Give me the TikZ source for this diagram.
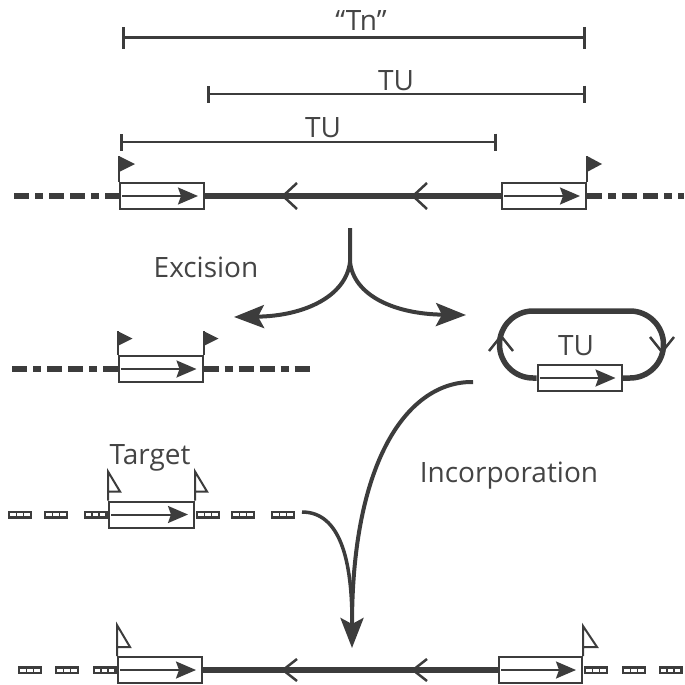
\documentclass[tikz,border=0pt]{standalone}
\usepackage{fontspec}
\setmainfont{Open Sans}
\usetikzlibrary{arrows.meta}
\definecolor{dk}{HTML}{3C3C3C}
\definecolor{tx}{HTML}{444444}
\tikzset{
  bead/.pic={
    \fill[dk] (-12,-4) rectangle (12,4);
    \foreach \dx in {-7,0,7} \fill[white] (\dx-2.6,-1.5) rectangle (\dx+2.6,1.5);
  }
}
\begin{document}
\begin{tikzpicture}[x=1pt,y=-1pt,
  gene/.style={draw=dk,line width=2pt,fill=white,rectangle,minimum width=84pt,minimum height=26pt,inner sep=0pt},
  inarrow/.style={draw=dk,line width=2pt,-{Stealth[length=20pt,width=17pt,inset=3pt]}},
  dna/.style={draw=dk,line width=5.5pt},
  dashdna/.style={draw=dk,line width=6pt,dash pattern=on 15pt off 6pt on 8pt off 6pt on 15pt off 6pt},
  chev/.style={draw=dk,line width=2.5pt,line join=miter},
  barline/.style={draw=dk,line width=3pt},
  lbl/.style={text=tx,font=\fontsize{28}{30}\selectfont,anchor=base,inner sep=0pt},
  bigarrow/.style={draw=dk,line width=4pt,-{Stealth[length=30pt,width=23pt,inset=6pt]}},
  flagpole/.style={draw=dk,line width=2pt},
  oflag/.style={draw=dk,line width=2pt,line join=miter},
]
\useasboundingbox (0,0) rectangle (685,685);

% ---- top bars ----
\coordinate (tnL) at (122,38);  \coordinate (tnR) at (586,38);
\coordinate (u1L) at (207,94);  \coordinate (u1R) at (586,94);
\coordinate (u2L) at (120,142); \coordinate (u2R) at (497,142);
\draw[barline,{Bar[width=22pt]}-{Bar[width=22pt]}] (tnL) -- (tnR);
\draw[barline,line width=2.6pt,{Bar[width=17pt]}-{Bar[width=17pt]}] (u1L) -- (u1R);
\draw[barline,line width=2.6pt,{Bar[width=17pt]}-{Bar[width=17pt]}] (u2L) -- (u2R);
\node[lbl] (tn)  at (361,31)  {“Tn”};
\node[lbl] (tu1) at (396,90)  {TU};
\node[lbl] (tu2) at (323,137) {TU};

% ---- row 1 ----
\node[gene] (a1) at (162,196) {};
\node[gene] (a2) at (544,196) {};
\coordinate (r1l) at (14,196); \coordinate (r1r) at (684,196);
\draw[dashdna] (r1l) -- (a1.west);
\draw[dashdna] (a2.east) -- (r1r);
\draw[dna] (a1.east) -- (a2.west);
\draw[inarrow] ([xshift=3pt]a1.west) -- ([xshift=-7pt]a1.east);
\draw[inarrow] ([xshift=3pt]a2.west) -- ([xshift=-7pt]a2.east);
\draw[chev] (297,183) -- (283,196) -- (297,209);
\draw[chev] (427,183) -- (413,196) -- (427,209);
\draw[flagpole] (a1.north west) -- ++(0,-26);
\fill[dk] (a1.north west) ++(0,-26) -- ++(16,8) -- ++(-16,8) -- cycle;
\draw[flagpole] (a2.north east) -- ++(0,-26);
\fill[dk] (a2.north east) ++(0,-26) -- ++(15,8) -- ++(-15,8) -- cycle;

% ---- excision ----
\coordinate (ex0) at (350,228); \coordinate (exj) at (350,262);
\coordinate (exl) at (234,317); \coordinate (exr) at (466,315);
\draw[bigarrow] (ex0) -- (exj) .. controls (346,296) and (305,316) .. (exl);
\draw[bigarrow] (exj) .. controls (354,296) and (395,314) .. (exr);
\node[lbl] (exc) at (206,277) {Excision};

% ---- row 2 ----
\node[gene] (c1) at (160.5,369) {};
\coordinate (r2l) at (12,369); \coordinate (r2r) at (310,369);
\draw[dashdna] (r2l) -- (c1.west);
\draw[dashdna] (c1.east) -- (r2r);
\draw[inarrow] ([xshift=3pt]c1.west) -- ([xshift=-7pt]c1.east);
\draw[flagpole] (c1.north west) -- ++(0,-24);
\fill[dk] (c1.north west) ++(0,-24) -- ++(15,7.5) -- ++(-15,7.5) -- cycle;
\draw[flagpole] (c1.north east) -- ++(0,-24);
\fill[dk] (c1.north east) ++(0,-24) -- ++(15,7.5) -- ++(-15,7.5) -- cycle;

% ---- loop ----
\node[gene] (lb) at (579.5,378) {};
\draw[dna] (lb.west) -- (533,378) arc[start angle=90,end angle=270,radius=33.5]
  -- (630,311) arc[start angle=270,end angle=450,radius=33.5] -- (lb.east);
\draw[inarrow] ([xshift=3pt]lb.west) -- ([xshift=-7pt]lb.east);
\draw[chev] (489,351) -- (501,336) -- (513,351);
\draw[chev] (650,337) -- (662,352) -- (674,337);
\node[lbl] (tu3) at (576,355) {TU};

% ---- incorporation ----
\coordinate (in0) at (473,382); \coordinate (int) at (352,648);
\coordinate (tg0) at (302,512); \coordinate (mg) at (352,622);
\draw[dk,line width=3.5pt] (tg0) .. controls (340,512) and (352,560) .. (mg);
\draw[bigarrow] (in0) .. controls (408,381) and (352,460) .. (int);
\node[lbl] (inc) at (509,482) {Incorporation};

% ---- row 3 (target) ----
\node[gene,minimum width=85pt] (t1) at (151.5,514.5) {};
\draw[inarrow] ([xshift=3pt]t1.west) -- ([xshift=-7pt]t1.east);
\foreach \cx in {20,56,95.5,208,243,283} \pic at (\cx,514.5) {bead};
\draw[oflag] (t1.north west) -- ++(0,-29) -- ++(12,20) -- ++(-12,0);
\draw[oflag] (t1.north east) -- ++(0,-29) -- ++(12,20) -- ++(-12,0);
\node[lbl] (tgt) at (150,464) {Target};

% ---- row 4 ----
\node[gene] (d1) at (160,670) {};
\node[gene,minimum width=83pt] (d2) at (540.5,670) {};
\draw[dna] (d1.east) -- (d2.west);
\draw[inarrow] ([xshift=3pt]d1.west) -- ([xshift=-7pt]d1.east);
\draw[inarrow] ([xshift=3pt]d2.west) -- ([xshift=-7pt]d2.east);
\draw[chev] (297,659) -- (283,670) -- (297,681);
\draw[chev] (427,659) -- (413,670) -- (427,681);
\foreach \cx in {30,67,104.5,596,634,670.5} \pic at (\cx,670) {bead};
\draw[oflag] (d1.north west) -- ++(0,-31) -- ++(13,22) -- ++(-13,0);
\draw[oflag] (d2.north east) -- ++(0,-30) -- ++(14,21) -- ++(-14,0);
\end{tikzpicture}
\end{document}
